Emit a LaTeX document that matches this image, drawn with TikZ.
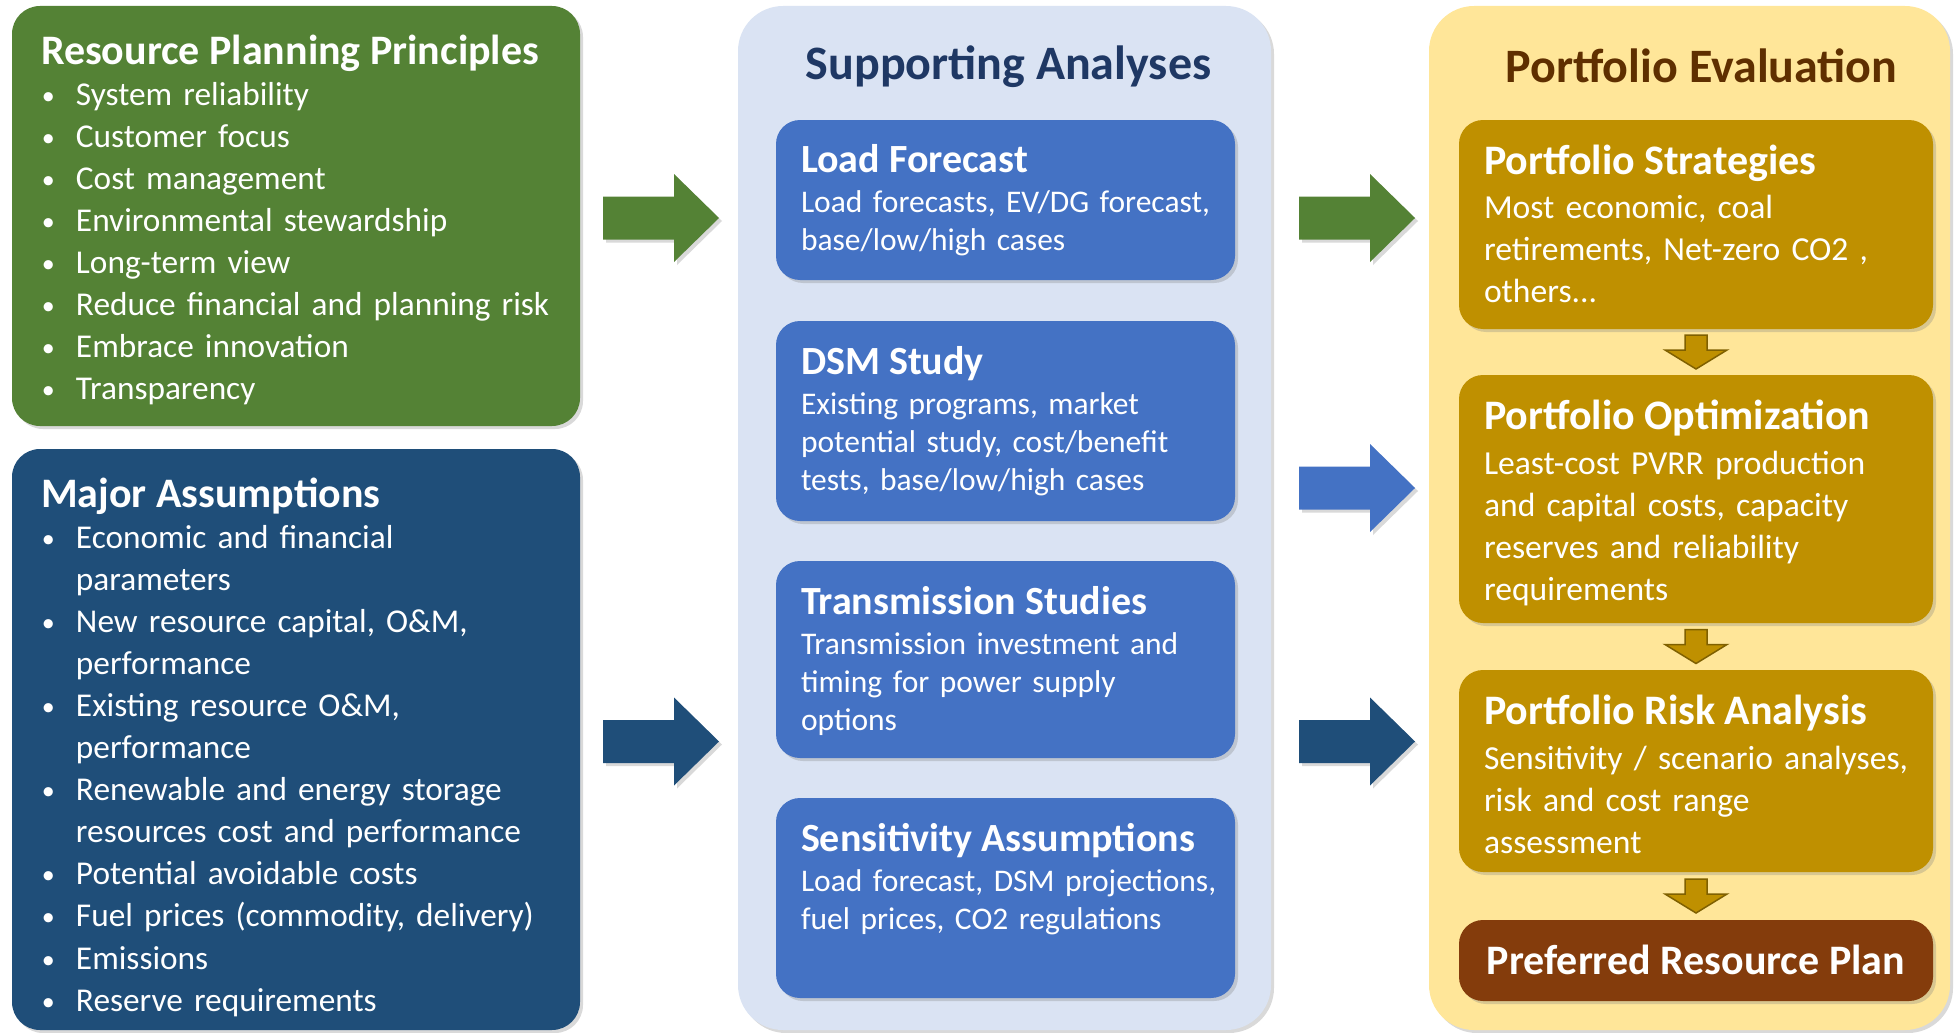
\documentclass[tikz,border=0pt]{standalone}
\usepackage{fontspec}
\setmainfont{Carlito}
\usetikzlibrary{calc}
\usetikzlibrary{shadows}

\definecolor{planGreen}{HTML}{548235}
\definecolor{assumBlue}{HTML}{1F4E79}
\definecolor{studyBlue}{HTML}{4472C4}
\definecolor{studyPanel}{HTML}{DAE3F3}
\definecolor{studyTitle}{HTML}{1F3864}
\definecolor{evalPanel}{HTML}{FFE699}
\definecolor{evalGold}{HTML}{BF9000}
\definecolor{evalEdge}{HTML}{7F6000}
\definecolor{evalTitle}{HTML}{5F2F00}
\definecolor{planBrown}{HTML}{843C0C}

% bullets with a hanging indent, one paragraph per list
\newcommand{\bulletbox}{\hbox to 35pt{\hskip1pt\raisebox{1pt}{\fontsize{26}{26}\selectfont\textbullet}\hfil}}
\newcommand{\bitem}{\newline\hspace*{-35pt}\bulletbox}
\newcommand{\blist}{\hangindent=35pt\hangafter=1\bulletbox}

\tikzset{
  softshadow/.style={drop shadow={opacity=0.3, shadow xshift=3pt, shadow yshift=-3pt}},
  bigbox/.style={anchor=north west, rounded corners=28pt, softshadow},
  panel/.style={anchor=north west, rounded corners=45pt, softshadow},
  subbox/.style={anchor=north west, rounded corners=24pt, softshadow},
  boxhead/.style={anchor=base west, text=white, font=\bfseries\fontsize{42}{50}\selectfont},
  studyhead/.style={boxhead, font=\bfseries\fontsize{40}{48}\selectfont},
  bullets/.style={anchor=base west, text=white, text width=530pt, align=left, font=\fontsize{33.3}{42.1}\selectfont},
  studytext/.style={anchor=base west, text=white, text width=430pt, align=left, font=\fontsize{31.5}{38}\selectfont},
  evaltext/.style={anchor=base west, text=white, text width=450pt, align=left, font=\fontsize{33.6}{42.2}\selectfont},
  paneltitle/.style={anchor=base, font=\bfseries\fontsize{48}{56}\selectfont},
  downarrow/.style={fill=evalGold, draw=evalEdge, line width=1.5pt, line join=miter}
}

\begin{document}
\begin{tikzpicture}[x=1pt, y=-1pt, every node/.style={inner sep=0pt, outer sep=0pt}]
\useasboundingbox (0,0) rectangle (1954,1033);

% left column
\node[bigbox, fill=planGreen, minimum width=568pt, minimum height=420pt] (principles) at (12,6) {};
\node[boxhead] (principlesHead) at ($(principles.north west)+(29,58)$) {Resource Planning Principles};
\node[bullets] (principlesList) at ($(principles.north west)+(29,99)$) {\blist System reliability
  \bitem Customer focus
  \bitem Cost management
  \bitem Environmental stewardship
  \bitem Long-term view
  \bitem Reduce financial and planning risk
  \bitem Embrace innovation
  \bitem Transparency\par};

\node[bigbox, fill=assumBlue, minimum width=568pt, minimum height=581pt] (assumptions) at (12,449) {};
\node[boxhead] (assumptionsHead) at ($(assumptions.north west)+(29,58)$) {Major Assumptions};
\node[bullets] (assumptionsList) at ($(assumptions.north west)+(29,99)$) {\blist Economic and financial\newline parameters
  \bitem New resource capital, O\&M,\newline performance
  \bitem Existing resource O\&M,\newline performance
  \bitem Renewable and energy storage\newline resources cost and performance
  \bitem Potential avoidable costs
  \bitem Fuel prices (commodity, delivery)
  \bitem Emissions
  \bitem Reserve requirements\par};

% middle column
\node[panel, fill=studyPanel, minimum width=533pt, minimum height=1024pt] (support) at (738,6) {};
\node[paneltitle, text=studyTitle] (supportTitle) at ($(support.north)+(4,74)$) {Supporting Analyses};

\node[subbox, fill=studyBlue, minimum width=459pt, minimum height=160pt] (load) at (776,120) {};
\node[studyhead] at ($(load.north west)+(25,52)$) {Load Forecast};
\node[studytext] at ($(load.north west)+(25,92)$) {Load forecasts, EV/DG forecast,\\base/low/high cases};

\node[subbox, fill=studyBlue, minimum width=459pt, minimum height=200pt] (dsm) at (776,321) {};
\node[studyhead] at ($(dsm.north west)+(25,53)$) {DSM Study};
\node[studytext] at ($(dsm.north west)+(25,93)$) {Existing programs, market\\potential study, cost/benefit\\tests, base/low/high cases};

\node[subbox, fill=studyBlue, minimum width=459pt, minimum height=197pt] (trans) at (776,561) {};
\node[studyhead] at ($(trans.north west)+(25,53)$) {Transmission Studies};
\node[studytext] at ($(trans.north west)+(25,93)$) {Transmission investment and\\timing for power supply\\options};

\node[subbox, fill=studyBlue, minimum width=459pt, minimum height=200pt] (sens) at (776,798) {};
\node[studyhead] at ($(sens.north west)+(25,53)$) {Sensitivity Assumptions};
\node[studytext] at ($(sens.north west)+(25,93)$) {Load forecast, DSM projections,\\fuel prices, CO2 regulations};

% right column
\node[panel, fill=evalPanel, minimum width=521pt, minimum height=1024pt] (evaluation) at (1429,6) {};
\node[paneltitle, text=evalTitle] (evaluationTitle) at ($(evaluation.north)+(12,76)$) {Portfolio Evaluation};

\node[subbox, fill=evalGold, minimum width=474pt, minimum height=209pt] (strat) at (1459,120) {};
\node[boxhead] at ($(strat.north west)+(25,54)$) {Portfolio Strategies};
\node[evaltext] at ($(strat.north west)+(25,98)$) {Most economic, coal\\retirements, Net-zero CO2 ,\\others...};

\node[subbox, fill=evalGold, minimum width=474pt, minimum height=248pt] (optim) at (1459,375) {};
\node[boxhead] at ($(optim.north west)+(25,54)$) {Portfolio Optimization};
\node[evaltext] at ($(optim.north west)+(25,99)$) {Least-cost PVRR production\\and capital costs, capacity\\reserves and reliability\\requirements};

\node[subbox, fill=evalGold, minimum width=474pt, minimum height=202pt] (risk) at (1459,670) {};
\node[boxhead] at ($(risk.north west)+(25,54)$) {Portfolio Risk Analysis};
\node[evaltext] at ($(risk.north west)+(25,99)$) {Sensitivity / scenario analyses,\\risk and cost range\\assessment};

\node[subbox, fill=planBrown, minimum width=474pt, minimum height=81pt] (plan) at (1459,920) {};
\node[anchor=base, text=white, font=\bfseries\fontsize{42}{50}\selectfont] at ($(plan.center)+(0,14)$) {Preferred Resource Plan};

% block arrows between the columns
\coordinate (studyIn) at (1299,486);
\foreach \src/\c in {principles/planGreen, assumptions/assumBlue}
  \fill[\c, softshadow] ($(\src.east)+(23,2)$) ++(0,-21.5) -- ++(71,0) -- ++(0,-22.5) -- ++(45,44) -- ++(-45,44) -- ++(0,-22.5) -- ++(-71,0) -- cycle;
\foreach \src/\c in {principles/planGreen, studyIn/studyBlue, assumptions/assumBlue}
  \fill[\c, softshadow] ($(support.east |- \src.east)+(28,2)$) ++(0,-21.5) -- ++(71,0) -- ++(0,-22.5) -- ++(45,44) -- ++(-45,44) -- ++(0,-22.5) -- ++(-71,0) -- cycle;

% small arrows down the evaluation steps
\foreach \a/\b in {strat/optim, optim/risk, risk/plan}
  \draw[downarrow] ($(\a.south)!0.5!(\b.north)$) ++(-11,-17) -- ++(22,0) -- ++(0,15) -- ++(20,0) -- ++(-31,19) -- ++(-31,-19) -- ++(20,0) -- cycle;
\end{tikzpicture}
\end{document}
